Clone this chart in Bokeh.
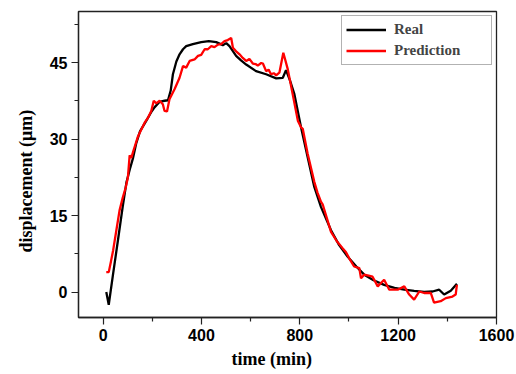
from bokeh.plotting import figure
from bokeh.models import FixedTicker, Range1d, Legend, LegendItem, Title
from bokeh.embed import file_html
from bokeh.resources import INLINE

# ---- data ----
t_real = [13, 23, 40, 60, 80, 95, 110, 122, 135, 150, 176, 195, 209, 230, 250, 264,
          275, 284, 298, 311, 325, 338, 365, 399, 430, 460, 487, 501, 514, 541, 561,
          582, 622, 663, 704, 731, 744, 760, 778, 805, 832, 859, 886, 927, 960, 995,
          1030, 1062, 1100, 1143, 1185, 1225, 1265, 1306, 1340, 1367, 1387, 1414, 1439]
d_real = [0, -2.5, 3.3, 10, 16.8, 21.5, 24.3, 26.3, 29.2, 31.5, 33.6, 35.2, 36.2, 37.3, 37.5, 37.6,
          39.5, 42.7, 45.2, 46.6, 47.6, 48.2, 48.6, 49.0, 49.2, 49.0, 48.4, 48.8, 48.2, 46.3, 45.4,
          44.6, 43.3, 42.7, 41.9, 42.0, 43.5, 41.5, 38.8, 32.3, 26.4, 20.6, 16.7, 12.1, 9.2, 6.9,
          5.0, 3.4, 2.3, 1.4, 0.8, 0.45, 0.2, 0.0, 0.1, 0.45, -0.5, 0.25, 1.6]

t_pred = [13, 23, 32, 41, 54, 67, 80, 92, 101, 108, 115, 122, 132, 142, 155, 169, 183, 196,
          206, 216, 230, 243, 250, 260, 270, 291, 311, 325, 338, 352, 372, 386, 399, 413,
          426, 440, 453, 467, 480, 494, 507, 521, 528, 541, 555, 568, 582, 595, 609, 620,
          629, 643, 650, 663, 673, 683, 694, 704, 717, 733, 751, 771, 792, 805, 812, 832,
          859, 872, 886, 893, 910, 927, 950, 974, 988, 1001, 1021, 1042, 1049, 1062, 1080,
          1096, 1117, 1143, 1164, 1198, 1225, 1245, 1265, 1286, 1306, 1333, 1346, 1373,
          1394, 1421, 1434, 1439]
d_pred = [3.9, 3.9, 6.0, 8.2, 12.1, 16.0, 18.5, 20.5, 22.5, 26.8, 26.3, 27.5, 29.0, 30.5, 31.8, 33.2, 34.2, 35.5,
          37.5, 37.0, 37.5, 36.8, 35.5, 35.4, 37.8, 39.8, 42.0, 44.3, 44.0, 45.3, 45.6, 46.3, 46.5, 47.6,
          47.6, 48.2, 48.0, 48.5, 48.6, 49.2, 49.4, 49.8, 47.9, 47.2, 46.6, 45.9, 45.3, 45.7, 44.8, 44.7,
          44.4, 44.9, 44.8, 43.3, 43.6, 42.7, 42.9, 42.5, 43.0, 46.9, 43.7, 38.8, 33.6, 32.3, 32.0, 27.1,
          21.6, 19.5, 17.7, 17.2, 14.5, 11.8, 10.0, 8.6, 7.8, 6.6, 5.0, 4.7, 2.7, 3.4, 3.2,
          3.0, 1.1, 2.4, 0.45, 0.45, 1.1, -0.5, -1.5, 0.1, -0.2, -0.2, -2.1, -1.8,
          -1.2, -0.9, -0.5, 1.4]

x_ticks = [0, 400, 800, 1200, 1600]
x_minor = [200, 600, 1000, 1400]
y_ticks = [0, 15, 30, 45]
y_minor = [7.5, 22.5, 37.5, 52.5]

x_title = "time (min)"
y_title = "displacement (\u03bcm)"

p = figure(width=516, height=374, output_backend="svg", toolbar_location=None,
           x_range=Range1d(-100, 1600), y_range=Range1d(-5, 55),
           min_border_left=78, min_border_right=20, min_border_top=11, min_border_bottom=57)
p.xgrid.visible = False
p.ygrid.visible = False
p.outline_line_color = "#222222"
p.outline_line_width = 1.3
p.background_fill_color = "white"
p.border_fill_color = "white"

r1 = p.line(t_real, d_real, line_color="black", line_width=2.3)
r2 = p.line(t_pred, d_pred, line_color="red", line_width=2.3)

p.xaxis.ticker = FixedTicker(ticks=x_ticks, minor_ticks=x_minor)
p.yaxis.ticker = FixedTicker(ticks=y_ticks, minor_ticks=y_minor)

for ax in (p.xaxis, p.yaxis):
    ax.major_label_text_font = "Liberation Sans"
    ax.major_label_text_font_style = "bold"
    ax.major_label_text_font_size = "16px"
    ax.major_label_text_color = "black"
    ax.axis_line_color = "#222222"
    ax.axis_line_width = 1.3
    ax.major_tick_line_color = "#222222"
    ax.minor_tick_line_color = "#222222"
    ax.major_tick_line_width = 1.2
    ax.minor_tick_line_width = 1.2
    ax.major_tick_out = 7
    ax.major_tick_in = 0
    ax.minor_tick_out = 4
    ax.minor_tick_in = 0

p.xaxis.major_label_standoff = 4
p.yaxis.major_label_standoff = 4

# axis titles, placed where the reference has them (slightly off-centre)
xt = Title(text=x_title, align="left", offset=153, standoff=7,
           text_font="Liberation Serif", text_font_style="bold", text_font_size="18px",
           text_color="black")
yt = Title(text=y_title, align="left", offset=65, standoff=21,
           text_font="Liberation Serif", text_font_style="bold", text_font_size="18px",
           text_color="black")
p.add_layout(xt, "below")
p.add_layout(yt, "left")

legend = Legend(items=[LegendItem(label="Real", renderers=[r1]),
                       LegendItem(label="Prediction", renderers=[r2])],
                location="top_right")
legend.margin = 4
legend.padding = 4
legend.spacing = 2
legend.glyph_width = 40
legend.glyph_height = 19
legend.label_height = 19
legend.label_standoff = 8
legend.label_width = 93
legend.border_line_color = "#666666"
legend.border_line_width = 1
legend.background_fill_alpha = 1.0
legend.label_text_font = "Liberation Serif"
legend.label_text_font_style = "bold"
legend.label_text_font_size = "15px"
p.add_layout(legend)

open("out.html", "w").write(file_html(p, INLINE))
